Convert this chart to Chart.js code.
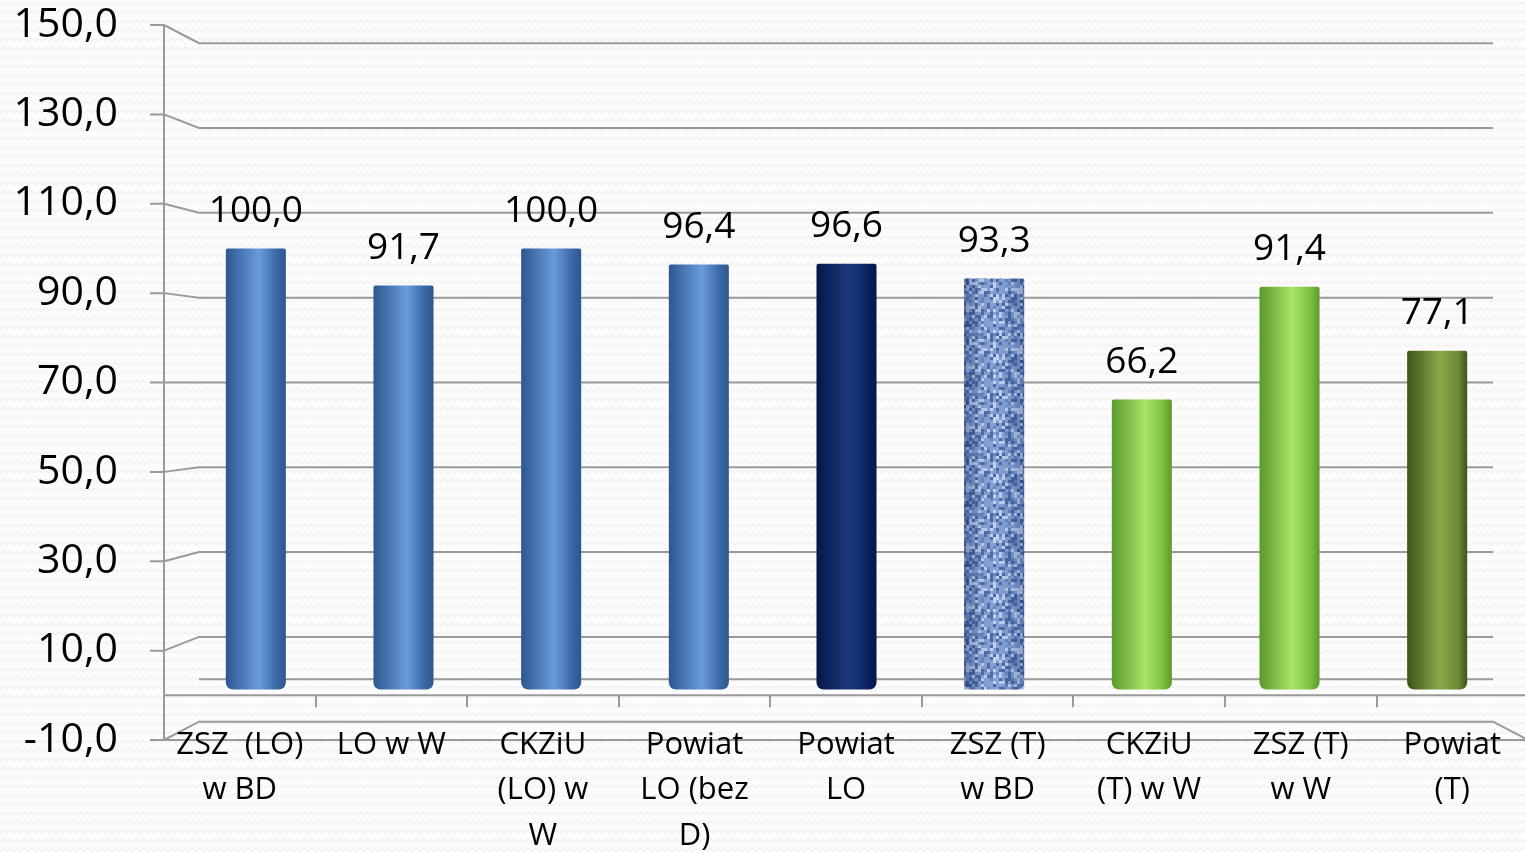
<!DOCTYPE html>
<html>
<head>
<meta charset="utf-8">
<script src="https://cdn.jsdelivr.net/npm/chart.js@4"></script>
<style>
  html, body { margin: 0; padding: 0; background: #fafafa; }
  #wrap { width: 1525px; height: 852px; }
</style>
</head>
<body>
<div id="wrap"><canvas id="barChart"></canvas></div>
<script>
const categories = [
  ['ZSZ  (LO)', 'w BD'],
  ['LO w W'],
  ['CKZiU', '(LO) w', 'W'],
  ['Powiat', 'LO (bez', 'D)'],
  ['Powiat', 'LO'],
  ['ZSZ (T)', 'w BD'],
  ['CKZiU', '(T) w W'],
  ['ZSZ (T)', 'w W'],
  ['Powiat', '(T)']
];
const values = [100.0, 91.7, 100.0, 96.4, 96.6, 93.3, 66.2, 91.4, 77.1];
const yTicks = [-10, 10, 30, 50, 70, 90, 110, 130, 150];

// cylinder shading per bar: [left edge, light, right edge]
const shades = [
  ['#2c5790', '#6a9bdc', '#3a67a6'],
  ['#2c5790', '#6a9bdc', '#3a67a6'],
  ['#2c5790', '#6a9bdc', '#3a67a6'],
  ['#2c5790', '#6a9bdc', '#3a67a6'],
  ['#051748', '#1c3a80', '#0a2260'],
  ['#3c5e9c', '#7c9ed6', '#4a6aa8'],
  ['#5a9a2c', '#a8e466', '#7cc040'],
  ['#5a9a2c', '#a8e466', '#7cc040'],
  ['#3c5418', '#8aa84c', '#6a8a34']
];
const BAR_PCT = 0.4065;

function fmt(v) { return v.toFixed(1).replace('.', ','); }

// background wavy texture
const bgCanvas = document.createElement('canvas');
bgCanvas.width = 14; bgCanvas.height = 9;
(function () {
  const c = bgCanvas.getContext('2d');
  c.fillStyle = '#fcfcfc';
  c.fillRect(0, 0, 14, 9);
  c.strokeStyle = '#f0f0f0';
  c.lineWidth = 1.2;
  c.beginPath();
  c.moveTo(0, 5); c.lineTo(3.5, 2); c.lineTo(7, 5); c.lineTo(10.5, 2); c.lineTo(14, 5);
  c.stroke();
})();

// denim-like texture for the 6th bar (deterministic hash, style only)
const texCanvas = document.createElement('canvas');
texCanvas.width = 60; texCanvas.height = 60;
(function () {
  const c = texCanvas.getContext('2d');
  c.fillStyle = '#7596d0';
  c.fillRect(0, 0, 60, 60);
  for (let y = 0; y < 60; y += 3) {
    for (let x = 0; x < 60; x += 3) {
      const h = Math.abs(Math.sin(x * 12.9898 + y * 78.233) * 43758.5453) % 1;
      if (h < 0.22) c.fillStyle = '#37579a';
      else if (h < 0.45) c.fillStyle = '#b8ccee';
      else if (h < 0.6) c.fillStyle = '#5878b8';
      else continue;
      c.fillRect(x, y, 3, 3);
    }
  }
})();

function barFill(context) {
  const chart = context.chart;
  const i = context.dataIndex;
  if (!chart.chartArea) return shades[i][1];
  if (i === 5) return chart.ctx.createPattern(texCanvas, 'repeat');
  const xs = chart.scales.x;
  const cx = xs.getPixelForValue(i);
  const half = xs.width / categories.length * BAR_PCT / 2;
  const g = chart.ctx.createLinearGradient(cx - half, 0, cx + half, 0);
  g.addColorStop(0, shades[i][0]);
  g.addColorStop(0.55, shades[i][1]);
  g.addColorStop(0.85, shades[i][2]);
  g.addColorStop(1, shades[i][0]);
  return g;
}

const frame3d = {
  id: 'frame3d',
  beforeDraw(chart) {
    const c = chart.ctx;
    c.save();
    c.fillStyle = c.createPattern(bgCanvas, 'repeat');
    c.fillRect(0, 0, chart.width, chart.height);
    c.restore();
  },
  beforeDatasetsDraw(chart) {
    const c = chart.ctx;
    const a = chart.chartArea;
    const ys = chart.scales.y;
    const axisX = a.left - 18;
    const backL = a.left + 17;
    const backR = a.right - 18;
    const frontR = axisX + (a.right - a.left) * 1.0264;
    const f0 = ys.getPixelForValue(0);
    const back = v => f0 - 16 + (ys.getPixelForValue(v) - f0) * 0.949;
    c.save();
    c.strokeStyle = '#9a9a9a';
    c.lineWidth = 2;
    c.beginPath();
    yTicks.forEach(v => {
      const f = ys.getPixelForValue(v);
      const b = back(v);
      c.moveTo(axisX - 14, f); c.lineTo(axisX, f);
      c.moveTo(axisX, f); c.lineTo(backL, b); c.lineTo(backR, b);
    });
    // back edge of floor
    c.moveTo(backL, back(0)); c.lineTo(backR, back(0));
    // bottom slab edge
    const fm = ys.getPixelForValue(-10);
    c.moveTo(backR, back(-10)); c.lineTo(frontR, fm);
    c.moveTo(axisX, fm); c.lineTo(frontR, fm);
    // front edge of floor with category ticks
    c.moveTo(axisX, f0); c.lineTo(frontR, f0);
    const step = (frontR - axisX) / categories.length;
    for (let i = 1; i < categories.length; i++) {
      const x = Math.round(axisX + step * i);
      c.moveTo(x, f0); c.lineTo(x, f0 + 12);
    }
    // vertical axis
    c.moveTo(axisX, ys.getPixelForValue(150)); c.lineTo(axisX, fm);
    c.stroke();

    // category labels (front plane)
    c.fillStyle = '#000';
    c.font = '31px "Open Sans"';
    c.textAlign = 'center';
    c.textBaseline = 'middle';
    categories.forEach((lines, i) => {
      const x = axisX + step * (i + 0.5);
      lines.forEach((t, k) => c.fillText(t, x, fm + 5 + k * 45.5));
    });
    c.restore();
  },
  afterDatasetsDraw(chart) {
    const c = chart.ctx;
    const meta = chart.getDatasetMeta(0);
    c.save();
    // cylinder shading over textured bar
    const el = meta.data[5];
    const g = c.createLinearGradient(el.x - el.width / 2, 0, el.x + el.width / 2, 0);
    g.addColorStop(0, 'rgba(20,40,90,0.4)');
    g.addColorStop(0.5, 'rgba(255,255,255,0.1)');
    g.addColorStop(1, 'rgba(20,40,90,0.3)');
    c.fillStyle = g;
    c.fillRect(el.x - el.width / 2, el.y, el.width, el.base - el.y);
    // value labels
    c.fillStyle = '#000';
    c.font = '37px "Open Sans"';
    c.textAlign = 'center';
    c.textBaseline = 'middle';
    meta.data.forEach((bar, i) => {
      c.fillText(fmt(values[i]), bar.x, bar.y - 37);
    });
    c.restore();
  }
};

const ctx = document.getElementById('barChart').getContext('2d');
const barChart = new Chart(ctx, {
  type: 'bar',
  data: {
    labels: categories,
    datasets: [{
      data: values,
      backgroundColor: barFill,
      base: 1.3,
      borderSkipped: false,
      borderRadius: { topLeft: 2, topRight: 2, bottomLeft: 7, bottomRight: 7 },
      categoryPercentage: 1,
      barPercentage: BAR_PCT
    }]
  },
  options: {
    responsive: true,
    maintainAspectRatio: false,
    animation: false,
    layout: { padding: { top: 25, right: 14, left: 0, bottom: 0 } },
    plugins: {
      legend: { display: false },
      tooltip: { enabled: false }
    },
    scales: {
      x: {
        grid: { display: false, drawTicks: false },
        border: { display: false },
        ticks: { display: false },
        afterFit: scale => { scale.height = 112; }
      },
      y: {
        min: -10,
        max: 150,
        grid: { display: false, drawTicks: false },
        border: { display: false },
        ticks: {
          stepSize: 20,
          padding: 64,
          color: '#000',
          font: { family: 'Open Sans', size: 41 },
          callback: v => fmt(v)
        },
        afterFit: scale => {
          scale.width = 182;
          scale.paddingTop = 0;
          scale.paddingBottom = 0;
        }
      }
    }
  },
  plugins: [frame3d]
});
</script>
</body>
</html>
